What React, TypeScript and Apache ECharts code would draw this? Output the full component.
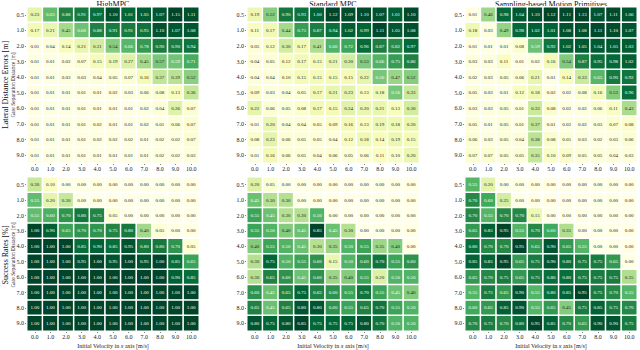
import React, { useEffect, useRef } from 'react';
import * as echarts from 'echarts';

const xCats = ['0.0', '1.0', '2.0', '3.0', '4.0', '5.0', '6.0', '7.0', '8.0', '9.0', '10.0'];
const yCats = ['0.5', '1.0', '2.0', '3.0', '4.0', '5.0', '6.0', '7.0', '8.0', '9.0'];
const titles = ['HighMPC', 'Standard MPC', 'Sampling-based Motion Primitives'];

const errHighMPC = [
  [0.23, 0.63, 0.88, 0.91, 0.97, 1.10, 1.01, 1.05, 1.07, 1.15, 1.11],
  [0.17, 0.21, 0.45, 0.60, 0.88, 0.91, 0.91, 0.95, 1.10, 1.07, 1.08],
  [0.01, 0.04, 0.14, 0.21, 0.31, 0.54, 0.66, 0.78, 0.90, 0.90, 0.94],
  [0.01, 0.01, 0.02, 0.07, 0.15, 0.19, 0.27, 0.45, 0.57, 0.59, 0.71],
  [0.01, 0.01, 0.03, 0.03, 0.04, 0.05, 0.07, 0.16, 0.37, 0.39, 0.52],
  [0.01, 0.01, 0.01, 0.01, 0.01, 0.02, 0.03, 0.06, 0.08, 0.13, 0.36],
  [0.01, 0.01, 0.01, 0.01, 0.01, 0.01, 0.01, 0.02, 0.04, 0.26, 0.07],
  [0.01, 0.01, 0.01, 0.01, 0.02, 0.01, 0.01, 0.02, 0.01, 0.06, 0.07],
  [0.01, 0.01, 0.01, 0.01, 0.02, 0.02, 0.02, 0.01, 0.02, 0.02, 0.07],
  [0.01, 0.01, 0.01, 0.01, 0.01, 0.01, 0.01, 0.01, 0.02, 0.02, 0.03],
];
const errStandardMPC = [
  [0.19, 0.52, 0.90, 0.93, 1.00, 1.12, 1.09, 1.10, 1.07, 1.01, 1.10],
  [0.11, 0.17, 0.44, 0.75, 0.87, 0.94, 1.02, 0.99, 1.11, 1.05, 1.08],
  [0.05, 0.12, 0.30, 0.17, 0.41, 0.66, 0.72, 0.96, 0.87, 0.82, 0.97],
  [0.04, 0.05, 0.12, 0.17, 0.15, 0.21, 0.30, 0.53, 0.66, 0.75, 0.86],
  [0.04, 0.04, 0.10, 0.15, 0.15, 0.15, 0.15, 0.22, 0.56, 0.47, 0.52],
  [0.09, 0.03, 0.04, 0.05, 0.17, 0.21, 0.23, 0.13, 0.18, 0.56, 0.33],
  [0.22, 0.06, 0.05, 0.08, 0.17, 0.15, 0.24, 0.20, 0.21, 0.13, 0.30],
  [0.01, 0.20, 0.04, 0.04, 0.05, 0.09, 0.16, 0.13, 0.19, 0.18, 0.20],
  [0.08, 0.23, 0.06, 0.05, 0.05, 0.04, 0.12, 0.18, 0.14, 0.19, 0.15],
  [0.01, 0.16, 0.06, 0.05, 0.04, 0.06, 0.05, 0.06, 0.11, 0.10, 0.20],
];
const errSampling = [
  [0.01, 0.46, 0.98, 1.04, 1.10, 1.12, 1.11, 1.13, 1.07, 1.11, 1.06],
  [0.18, 0.03, 0.49, 0.98, 1.02, 1.01, 1.08, 1.08, 1.11, 1.10, 1.07],
  [0.01, 0.01, 0.01, 0.08, 0.59, 0.92, 1.02, 1.05, 1.04, 1.05, 1.03],
  [0.03, 0.03, 0.11, 0.01, 0.02, 0.16, 0.54, 0.87, 0.95, 0.98, 1.02],
  [0.02, 0.03, 0.05, 0.06, 0.21, 0.01, 0.14, 0.33, 0.65, 0.90, 0.92],
  [0.05, 0.03, 0.01, 0.12, 0.18, 0.02, 0.02, 0.08, 0.16, 0.53, 0.96],
  [0.03, 0.03, 0.05, 0.01, 0.33, 0.08, 0.02, 0.02, 0.06, 0.11, 0.43],
  [0.05, 0.01, 0.05, 0.01, 0.37, 0.01, 0.02, 0.02, 0.03, 0.07, 0.08],
  [0.06, 0.03, 0.05, 0.04, 0.38, 0.08, 0.05, 0.03, 0.02, 0.03, 0.06],
  [0.07, 0.07, 0.05, 0.05, 0.35, 0.10, 0.09, 0.05, 0.05, 0.04, 0.03],
];
const succHighMPC = [
  [0.30, 0.10, 0.00, 0.00, 0.00, 0.00, 0.00, 0.00, 0.00, 0.00, 0.00],
  [0.55, 0.20, 0.30, 0.00, 0.00, 0.00, 0.00, 0.00, 0.00, 0.00, 0.00],
  [0.55, 0.60, 0.70, 0.80, 0.75, 0.05, 0.00, 0.00, 0.00, 0.00, 0.00],
  [1.00, 0.90, 0.65, 0.70, 0.70, 0.75, 0.80, 0.40, 0.05, 0.00, 0.00],
  [1.00, 1.00, 1.00, 0.85, 0.90, 0.85, 0.95, 0.80, 0.80, 0.70, 0.05],
  [1.00, 1.00, 1.00, 0.95, 1.00, 0.95, 1.00, 0.95, 1.00, 0.85, 0.65],
  [1.00, 1.00, 1.00, 1.00, 1.00, 1.00, 1.00, 1.00, 1.00, 0.90, 0.85],
  [1.00, 1.00, 1.00, 1.00, 1.00, 1.00, 1.00, 1.00, 1.00, 1.00, 1.00],
  [1.00, 1.00, 1.00, 1.00, 1.00, 1.00, 1.00, 1.00, 1.00, 1.00, 1.00],
  [1.00, 1.00, 1.00, 1.00, 1.00, 1.00, 1.00, 1.00, 1.00, 1.00, 1.00],
];
const succStandardMPC = [
  [0.20, 0.05, 0.00, 0.00, 0.00, 0.00, 0.00, 0.00, 0.00, 0.00, 0.00],
  [0.45, 0.30, 0.30, 0.00, 0.00, 0.00, 0.00, 0.00, 0.00, 0.00, 0.00],
  [0.55, 0.45, 0.30, 0.30, 0.50, 0.00, 0.00, 0.00, 0.00, 0.00, 0.00],
  [0.55, 0.50, 0.40, 0.45, 0.85, 0.45, 0.30, 0.00, 0.00, 0.00, 0.00],
  [0.40, 0.55, 0.50, 0.45, 0.30, 0.35, 0.50, 0.55, 0.35, 0.40, 0.00],
  [0.30, 0.75, 0.50, 0.55, 0.60, 0.15, 0.50, 0.60, 0.70, 0.55, 0.60],
  [0.30, 0.65, 0.60, 0.45, 0.60, 0.35, 0.40, 0.55, 0.20, 0.50, 0.50],
  [0.60, 0.45, 0.65, 0.75, 0.65, 0.60, 0.55, 0.70, 0.55, 0.45, 0.40],
  [0.65, 0.45, 0.65, 0.80, 0.80, 0.60, 0.55, 0.65, 0.70, 0.55, 0.50],
  [0.80, 0.75, 0.80, 0.85, 0.75, 0.75, 0.75, 0.80, 0.70, 0.50, 0.50],
];
const succSampling = [
  [0.55, 0.20, 0.00, 0.00, 0.00, 0.00, 0.00, 0.00, 0.00, 0.00, 0.00],
  [0.70, 0.60, 0.25, 0.00, 0.00, 0.00, 0.00, 0.00, 0.00, 0.00, 0.00],
  [0.70, 0.55, 0.70, 0.70, 0.15, 0.00, 0.00, 0.00, 0.00, 0.00, 0.00],
  [0.65, 0.85, 0.95, 0.55, 0.70, 0.60, 0.35, 0.00, 0.00, 0.00, 0.00],
  [0.80, 0.70, 0.70, 0.95, 0.65, 0.90, 0.65, 0.55, 0.00, 0.00, 0.00],
  [0.85, 0.85, 0.95, 0.65, 0.75, 0.90, 0.80, 0.75, 0.75, 0.65, 0.00],
  [0.65, 0.70, 0.75, 0.65, 0.75, 0.80, 0.80, 0.75, 0.75, 0.75, 0.35],
  [0.55, 0.75, 0.65, 0.90, 0.55, 0.80, 0.85, 0.95, 0.75, 0.70, 0.55],
  [0.60, 0.65, 0.85, 0.90, 0.55, 0.65, 0.45, 0.75, 0.85, 0.75, 0.70],
  [0.70, 0.75, 0.70, 0.80, 0.95, 0.85, 0.70, 0.65, 0.90, 0.90, 0.75],
];

const YLGN = ['#ffffe5', '#f7fcb9', '#d9f0a3', '#addd8e', '#78c679', '#41ab5d', '#238443', '#006837', '#004529'];

export default function App() {
  const ref = useRef<HTMLDivElement>(null);
  useEffect(() => {
    const chart = echarts.init(ref.current!, null, { renderer: 'svg' });
    const FONT = "'Liberation Serif', serif";
    const lefts = [27, 247, 465];
    const tops = [7, 177];
    const W = 172;
    const H = 156;
    const mats = [errHighMPC, errStandardMPC, errSampling, succHighMPC, succStandardMPC, succSampling];
    const grids: any[] = [];
    const xAxes: any[] = [];
    const yAxes: any[] = [];
    const series: any[] = [];
    const visualMaps: any[] = [];
    mats.forEach((m, i) => {
      const col = i % 3;
      const row = Math.floor(i / 3);
      grids.push({ left: lefts[col], top: tops[row], width: W, height: H });
      xAxes.push({
        type: 'category', data: xCats, gridIndex: i,
        axisLine: { show: false },
        axisTick: { show: true, length: 2, alignWithLabel: true, lineStyle: { color: '#333', width: 0.6 } },
        axisLabel: { fontSize: 6, fontFamily: FONT, color: '#222', margin: 3, interval: 0 },
        splitArea: { show: false },
        name: row === 1 ? 'Initial Velocity in {i|x} axis [m/s]' : '',
        nameLocation: 'middle', nameGap: 12,
        nameTextStyle: { fontSize: 6, fontFamily: FONT, color: '#222', rich: { i: { fontStyle: 'italic', fontSize: 6, fontFamily: FONT, color: '#222' } } },
      });
      yAxes.push({
        type: 'category', data: yCats, gridIndex: i, inverse: true,
        axisLine: { show: false },
        axisTick: { show: true, length: 2, alignWithLabel: true, lineStyle: { color: '#333', width: 0.6 } },
        axisLabel: { fontSize: 6, fontFamily: FONT, color: '#222', margin: 3, interval: 0 },
        splitArea: { show: false },
      });
      const max = Math.max(...m.flat());
      const data: any[] = [];
      m.forEach((r, yi) => r.forEach((v, xi) => {
        data.push({ value: [xi, yi, v], label: { color: v / max >= 0.5 ? '#ffffff' : '#222222' } });
      }));
      series.push({
        type: 'heatmap', xAxisIndex: i, yAxisIndex: i, data,
        label: { show: true, fontSize: 5, fontFamily: FONT, formatter: (p: any) => p.value[2].toFixed(2) },
        itemStyle: { borderColor: '#ffffff', borderWidth: 1.5 },
        emphasis: { disabled: true },
      });
      visualMaps.push({ show: false, seriesIndex: i, min: 0, max, dimension: 2, inRange: { color: YLGN } });
    });
    const graphics: any[] = [];
    titles.forEach((t, c) => {
      graphics.push({ type: 'text', x: lefts[c] + W / 2, y: 0, style: { text: t, fontSize: 8, fontFamily: FONT, fill: '#111', textAlign: 'center', textVerticalAlign: 'top' } });
    });
    const rowNames = ['Lateral Distance Errors [m]', 'Success Rates [%]'];
    rowNames.forEach((t, r) => {
      const cy = tops[r] + H / 2;
      graphics.push({ type: 'text', x: 5, y: cy, rotation: Math.PI / 2, style: { text: t, fontSize: 8, fontFamily: FONT, fill: '#111', textAlign: 'center', textVerticalAlign: 'middle' } });
      graphics.push({ type: 'text', x: 13, y: cy, rotation: Math.PI / 2, style: { text: 'Gate Separation Distance [m]', fontSize: 5.5, fontFamily: FONT, fill: '#222', textAlign: 'center', textVerticalAlign: 'middle' } });
    });
    chart.setOption({
      animation: false,
      grid: grids,
      xAxis: xAxes,
      yAxis: yAxes,
      visualMap: visualMaps,
      series,
      graphic: graphics,
    });
    return () => chart.dispose();
  }, []);
  return <div ref={ref} style={{ position: 'fixed', left: 0, top: 0, width: 640, height: 350, background: '#fff' }} />;
}
